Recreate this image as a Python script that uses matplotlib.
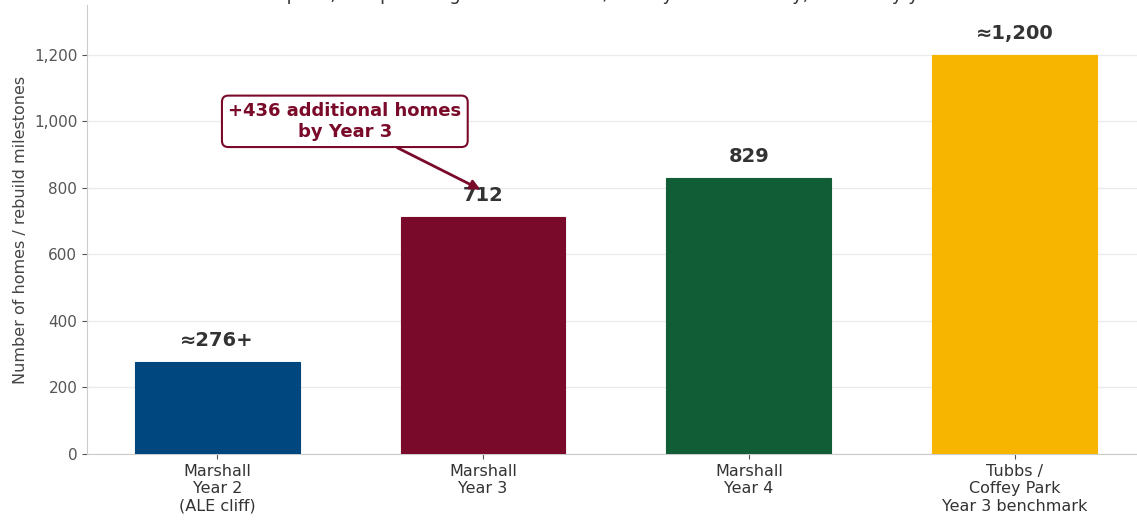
import matplotlib.pyplot as plt
from matplotlib.ticker import FuncFormatter

categories = ['Marshall\nYear 2\n(ALE cliff)', 'Marshall\nYear 3', 'Marshall\nYear 4',
              'Tubbs /\nCoffey Park\nYear 3 benchmark']
values = [276, 712, 829, 1200]
value_labels = ['\u2248276+', '712', '829', '\u22481,200']
colors = ['#00467F', '#7A0A2A', '#115E36', '#F7B500']
yticks = [0, 200, 400, 600, 800, 1000, 1200]

fig = plt.figure(figsize=(11.37, 5.21), dpi=100)
ax = fig.add_axes([0.0765, 0.1286, 0.9235, 0.862])

x = range(len(values))
ax.bar(x, values, width=0.62, color=colors, edgecolor=colors, linewidth=0.8, zorder=3)

for i, (v, lab) in enumerate(zip(values, value_labels)):
    ax.text(i, v + 65, lab, ha='center', va='center', fontsize=14,
            fontweight='bold', color='#333333', zorder=4)

ax.annotate('+436 additional homes\nby Year 3', xy=(0.99, 795), xytext=(0.48, 1000),
            ha='center', va='center', fontsize=13, fontweight='bold', color='#7A0A2A',
            bbox=dict(boxstyle='round,pad=0.35', fc='white', ec='#7A0A2A', lw=1.5),
            arrowprops=dict(arrowstyle='-|>', color='#7A0A2A', lw=2, mutation_scale=14,
                            shrinkA=0, shrinkB=0),
            zorder=5)

ax.set_xlim(-0.49, 3.46)
ax.set_ylim(0, 1350)
ax.set_xticks(list(x))
ax.set_xticklabels(categories, fontsize=11.5, color='#333333')
ax.set_yticks(yticks)
ax.yaxis.set_major_formatter(FuncFormatter(lambda v, p: f'{int(v):,}'))
ax.tick_params(axis='y', labelsize=11, colors='#555555')
ax.tick_params(axis='x', colors='#555555')
for t in ax.get_xticklabels():
    t.set_color('#333333')
ax.set_ylabel('Number of homes / rebuild milestones', fontsize=11.5, color='#444444')

ax.grid(axis='y', color='#EBEBEB', linewidth=1, zorder=0)
ax.set_axisbelow(True)
for s in ['top', 'right']:
    ax.spines[s].set_visible(False)
for s in ['left', 'bottom']:
    ax.spines[s].set_color('#CCCCCC')

# title sits mostly above the canvas, as in the reference
fig.text(0.46, 1.0, 'Marshall Fire rebuild pace, compared against the Tubbs / Coffey Park recovery, homes by year',
         ha='center', va='baseline', fontsize=13, color='#333333')

fig.savefig('out.png', dpi=100)
